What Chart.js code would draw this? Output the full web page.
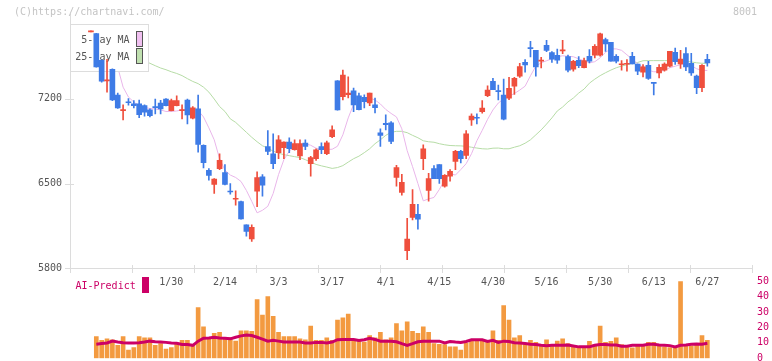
<!DOCTYPE html>
<html><head><meta charset="utf-8">
<script src="https://cdn.jsdelivr.net/npm/chart.js@4.4.1/dist/chart.umd.min.js"></script>
<style>
html,body{margin:0;padding:0;background:#fff;width:772px;height:361px;overflow:hidden;}
#wrap{position:relative;width:772px;height:361px;}
#c1{position:absolute;left:0;top:0;}
#c2{position:absolute;left:0;top:270px;}
</style></head><body>
<div id="wrap"><canvas id="c1" width="772" height="361"></canvas><canvas id="c2" width="772" height="100"></canvas></div>
<script>
const dates = ['1/8','1/9','1/10','1/14','1/15','1/16','1/17','1/20','1/21','1/22','1/23','1/24','1/27','1/28','1/29','1/30','1/31',
'2/3','2/4','2/5','2/6','2/7','2/10','2/12','2/13','2/14','2/17','2/18','2/19','2/20','2/21','2/25','2/26','2/27','2/28',
'3/3','3/4','3/5','3/6','3/7','3/10','3/11','3/12','3/13','3/14','3/17','3/18','3/19','3/21','3/24','3/25','3/26','3/27','3/28','3/31',
'4/1','4/2','4/3','4/4','4/7','4/8','4/9','4/10','4/11','4/14','4/15','4/16','4/17','4/18','4/21','4/22','4/23','4/24','4/25','4/28','4/30',
'5/1','5/2','5/7','5/8','5/9','5/12','5/13','5/14','5/15','5/16','5/19','5/20','5/21','5/22','5/23','5/26','5/27','5/28','5/29','5/30',
'6/2','6/3','6/4','6/5','6/6','6/9','6/10','6/11','6/12','6/13','6/16','6/17','6/18','6/19','6/20','6/23','6/24','6/25','6/26','6/27'];

const opens = [7752,7739,7518,7348,7444,7231,7102,7171,7159,7159,7143,7108,7132,7165,7198,7102,7143,7102,7190,7039,
7116,6815,6609,6492,6623,6591,6435,6370,6350,6158,6043,6437,6555,6806,6746,6755,6796,6842,6779,6728,
6834,6664,6705,6806,6746,6888,7348,7217,7233,7266,7225,7212,7165,7149,6919,6998,7001,6550,6426,5945,
6221,6246,6705,6443,6623,6656,6478,6560,6683,6765,6733,7026,7044,7094,7225,7343,7263,7231,7204,7304,
7387,7501,7619,7600,7511,7641,7581,7559,7596,7548,7444,7518,7456,7551,7561,7559,7688,7666,7551,7481,
7485,7551,7487,7419,7477,7332,7414,7436,7469,7584,7487,7573,7493,7387,7291,7526];
const highs = [7753,7740,7522,7526,7448,7247,7149,7202,7185,7190,7149,7116,7198,7187,7202,7198,7225,7149,7198,7136,
7231,6820,6623,6541,6746,6656,6500,6440,6355,6160,6158,6596,6574,6938,6911,6897,6845,6878,6861,6861,
6861,6724,6787,6837,6851,6976,7350,7436,7381,7288,7247,7233,7247,7206,6952,7067,7012,6651,6577,6213,
6451,6328,6820,6585,6648,6656,6574,6615,6774,6774,6938,7075,7075,7184,7307,7368,7313,7362,7376,7376,
7493,7524,7674,7600,7542,7682,7589,7611,7682,7561,7518,7549,7537,7606,7647,7742,7701,7666,7565,7515,
7524,7584,7487,7483,7510,7332,7483,7496,7592,7619,7600,7622,7575,7395,7483,7567];
const lows = [7752,7460,7337,7255,7184,7120,7026,7147,7124,7044,7056,7050,7075,7075,7140,7099,7140,7034,6993,7034,
6760,6629,6527,6418,6615,6488,6412,6322,6205,6065,6022,6309,6396,6738,6623,6705,6705,6755,6775,6697,
6779,6560,6691,6746,6738,6878,7105,7190,7206,7094,7108,7124,7143,7083,6806,6943,6829,6478,6404,5871,
6199,6123,6615,6355,6541,6500,6470,6519,6615,6670,6705,6979,6993,7081,7217,7276,7190,7026,7192,7236,
7376,7419,7545,7387,7455,7589,7501,7491,7573,7422,7428,7456,7455,7496,7537,7551,7592,7510,7496,7436,
7428,7487,7400,7381,7359,7231,7373,7428,7463,7483,7450,7432,7393,7243,7258,7469];
const closes = [7753,7463,7346,7354,7190,7124,7105,7167,7143,7069,7089,7061,7127,7116,7143,7184,7184,7105,7067,7126,
6823,6673,6568,6536,6691,6492,6430,6375,6207,6104,6139,6550,6486,6765,6664,6861,6842,6787,6829,6829,
6806,6714,6779,6779,6837,6943,7108,7395,7247,7149,7110,7176,7247,7126,6897,6987,6847,6632,6509,6041,
6328,6205,6787,6541,6541,6541,6568,6601,6765,6705,6911,7056,7039,7124,7272,7276,7259,7031,7286,7368,
7466,7479,7614,7463,7515,7600,7526,7518,7600,7436,7510,7473,7515,7510,7633,7737,7653,7510,7510,7485,
7489,7487,7428,7463,7368,7327,7460,7487,7592,7507,7528,7463,7414,7291,7477,7496];

const ma5 = [null,null,null,null,null,7460,7296,7214,7173,7140,7128,7120,7116,7108,7095,7095,7099,7108,7116,7116,
7103,7050,6960,6861,6705,6611,6570,6550,6517,6443,6353,6258,6279,6312,6418,6574,6697,6767,6808,6820,
6829,6816,6792,6783,6782,6783,6808,6902,7042,7153,7194,7210,7206,7190,7157,7112,7079,7050,6952,6771,
6640,6500,6357,6373,6385,6451,6529,6582,6570,6615,6664,6746,6853,6939,7030,7108,7165,7198,7222,7243,
7272,7304,7390,7469,7497,7514,7530,7547,7555,7551,7547,7530,7514,7497,7506,7538,7584,7612,7612,7600,
7563,7526,7489,7460,7436,7423,7423,7436,7456,7469,7481,7489,7473,7448,7434,7434];
const ma25 = [null,null,null,null,null,null,null,null,null,null,7514,7493,7473,7454,7440,7423,7409,7391,7366,7343,
7325,7296,7255,7198,7136,7095,7034,7005,6964,6923,6882,6845,6812,6792,6767,6751,6738,6730,6722,6714,
6697,6677,6658,6646,6636,6625,6632,6648,6677,6705,6726,6755,6787,6829,6861,6898,6923,6931,6931,6920,
6898,6878,6853,6845,6841,6829,6820,6814,6812,6811,6807,6800,6793,6787,6785,6792,6793,6787,6787,6800,
6812,6833,6861,6902,6943,6991,7042,7099,7132,7174,7206,7247,7280,7329,7362,7391,7415,7437,7456,7470,
7481,7492,7500,7514,7515,7515,7515,7515,7515,7515,7514,7510,7504,7497,7493,7493];

const aiBars = [null,14,11.6,12.6,12,8.4,14,5.3,7,14,13.2,
13.2,8.4,9.5,5.9,7,9.9,11.6,11.6,8.4,32.8,
20.3,12.6,16.1,16.8,13.2,13.2,11.1,17.8,17.8,17.4,
38,28,39.9,27.2,16.8,14,14,14,12.6,12,
20.9,11.6,11.6,13.2,11.6,24.7,26.1,28.6,12,11.6,
10.5,14.7,13.2,16.8,12,13.2,22.4,17.8,23.6,17.4,
16.1,20.3,16.8,9.5,9.1,8.9,7.4,7.4,5.3,9.9,
12,12,11.1,10.9,17.8,11.6,34.1,24.7,13.2,14.7,
8.9,11.6,10.3,8.9,12,8.9,11.1,12.6,9.5,7.8,
7.4,7.4,10.9,8.9,20.9,10.3,10.9,13.2,8.9,7.8,
6.8,8.9,8,10.3,10.3,8,7.4,7,7.4,49.7,
8.9,8,8.9,14.7,11.6];
const aiLine = [null,9.1,9.5,9.9,11.1,10.5,10.1,9.9,9.9,10.1,10.5,
11.1,10.7,10.5,10.3,9.9,9.7,8.9,8.9,8.4,11.1,
13,13.2,13.6,13.2,13,12.6,13.6,14.5,15.1,14.7,
13.6,12.4,11.1,11.6,11.1,10.5,10.5,10.5,10.5,9.9,
9.9,10.3,10.3,9.9,10.5,12,12.2,12.2,12.2,11.6,
12,13,12.2,11.1,11.1,11.1,10.7,9.5,8.4,9.5,
10.7,11.1,11.1,11.1,11.1,9.9,10.9,10.5,10.3,10.9,
12,12,12,10.9,11.6,10.3,11.1,10.9,10.1,9.9,
9.5,9.1,8.9,8.4,8.2,8.4,8.4,8.4,8.6,8,
7.4,7.4,7.4,8.4,8.9,8.9,8.6,8.6,7.8,7.8,
8.4,8.4,8.4,9.1,9.1,8.6,8.4,8.2,7.4,8.4,
8.6,9.1,9.3,9.1,9.7];

const priceTicks = [5800, 6500, 7200];
const aiTicks = [0, 10, 20, 30, 40, 50];
const dateLabels = ['1/30','2/14','3/3','3/17','4/1','4/15','4/30','5/16','5/30','6/13','6/27'];
const legendNames = ['5-Day MA', '25-Day MA'];
const copyright = '(C)https://chartnavi.com/';
const code = '8001';
const aiName = 'AI-Predict';

const MONO = '"DejaVu Sans Mono", "Liberation Mono", monospace';
const UP = '#ef4f3d', DOWN = '#3e7be6';
const MA5C = '#e9b6ea', MA25C = '#b6dca6';
const AXIS = '#dcdcdc';
const XMIN = -3.907, XMAX = 123.33;

const pts = arr => arr.map((v, k) => v == null ? null : {x: k, y: v}).filter(p => p);
const candleColor = ctx => closes[ctx.dataIndex] >= opens[ctx.dataIndex] ? UP : DOWN;

const mainPlugin = {
  id: 'mainPlugin',
  beforeDatasetDraw(chart, args) {
    if (args.index !== 2) return;
    const ctx = chart.ctx;
    ctx.save();
    ctx.fillStyle = '#fff';
    ctx.fillRect(70, 24, 78, 47);
    ctx.strokeStyle = '#dddddd';
    ctx.lineWidth = 1;
    ctx.strokeRect(70.5, 24.5, 78, 47);
    ctx.font = '10px ' + MONO;
    ctx.fillStyle = '#555';
    ctx.textAlign = 'right';
    ctx.textBaseline = 'middle';
    ctx.fillText(legendNames[0], 129.5, 40);
    ctx.fillText(legendNames[1], 129.5, 57);
    ctx.fillStyle = '#f0c0f0';
    ctx.fillRect(136.5, 31.5, 6, 15);
    ctx.fillStyle = '#c0e0b0';
    ctx.fillRect(136.5, 48.5, 6, 15);
    ctx.strokeStyle = '#555';
    ctx.strokeRect(136.5, 31.5, 6, 15);
    ctx.strokeRect(136.5, 48.5, 6, 15);
    ctx.restore();
  },
  afterDraw(chart) {
    const ctx = chart.ctx, xs = chart.scales.x, ys = chart.scales.y, a = chart.chartArea;
    ctx.save();
    ctx.fillStyle = AXIS;
    const L = Math.round(a.left), B = Math.round(a.bottom);
    ctx.fillRect(L, Math.round(a.top), 1, B - Math.round(a.top) + 1);
    ctx.fillRect(L - 5, B, Math.round(a.right) - L + 6, 1);
    priceTicks.forEach(v => { const y = Math.round(ys.getPixelForValue(v)); ctx.fillRect(L - 5, y, 9, 1); });
    for (let j = 0; j <= 11; j++) {
      const v = XMIN + j * (XMAX - XMIN) / 11;
      const x = Math.round(xs.getPixelForValue(v));
      ctx.fillRect(x, B - 3, 1, 8);
    }
    ctx.font = '10px ' + MONO;
    ctx.textBaseline = 'middle';
    ctx.textAlign = 'center';
    ctx.fillStyle = '#555';
    dateLabels.forEach(d => {
      const k = dates.indexOf(d);
      ctx.fillText(d, xs.getPixelForValue(k), 282.5);
    });
    ctx.fillStyle = '#c4c4c4';
    ctx.textAlign = 'left';
    ctx.fillText(copyright, 14, 12.5);
    ctx.textAlign = 'right';
    ctx.fillText(code, 757, 12.5);
    ctx.fillStyle = '#cc0066';
    ctx.textAlign = 'left';
    ctx.fillText(aiName, 75.5, 286);
    ctx.fillRect(142, 277, 7, 16);
    ctx.restore();
  }
};

new Chart(document.getElementById('c1'), {
  type: 'bar',
  data: {
    datasets: [
      {type: 'line', data: pts(ma25), borderColor: MA25C, borderWidth: 1, pointRadius: 0, tension: 0, order: 4},
      {type: 'line', data: pts(ma5), borderColor: MA5C, borderWidth: 1, pointRadius: 0, tension: 0, order: 3},
      {data: lows.map((v, k) => ({x: k, y: [v, highs[k]]})), backgroundColor: candleColor, barThickness: 1, grouped: false, minBarLength: 1, order: 2},
      {data: opens.map((v, k) => ({x: k, y: [v, closes[k]]})), backgroundColor: candleColor, barThickness: 5, grouped: false, minBarLength: 1, order: 1}
    ]
  },
  options: {
    responsive: false, animation: false, events: [],
    layout: {padding: {left: 0, right: 20, top: 12.3, bottom: 92.7}},
    plugins: {legend: {display: false}, tooltip: {enabled: false}},
    scales: {
      x: {type: 'linear', min: XMIN, max: XMAX, offset: false, display: false},
      y: {
        position: 'left', min: 5800, max: 7900,
        grid: {display: false, drawTicks: false}, border: {display: false},
        afterBuildTicks: s => { s.ticks = priceTicks.map(v => ({value: v})); },
        afterFit: s => { s.width = 70; },
        ticks: {padding: 8, color: '#555', font: {family: MONO, size: 10}, callback: v => String(v)}
      }
    }
  },
  plugins: [mainPlugin]
});

new Chart(document.getElementById('c2'), {
  type: 'bar',
  data: {
    datasets: [
      {type: 'line', data: pts(aiLine), borderColor: '#cc0066', borderWidth: 3, pointRadius: 0, tension: 0, order: 0},
      {data: pts(aiBars), backgroundColor: '#f39a40', barThickness: 4, grouped: false, order: 1}
    ]
  },
  options: {
    responsive: false, animation: false, events: [],
    layout: {padding: {left: 70, right: 0, top: 8.3, bottom: 11.7}},
    plugins: {legend: {display: false}, tooltip: {enabled: false}},
    scales: {
      x: {type: 'linear', min: XMIN, max: XMAX, offset: false, display: false},
      y: {
        position: 'right', min: 0, max: 50,
        grid: {display: false, drawTicks: false}, border: {display: false},
        afterBuildTicks: s => { s.ticks = aiTicks.map(v => ({value: v})); },
        afterFit: s => { s.width = 20; },
        ticks: {padding: 5, color: '#cc0066', font: {family: MONO, size: 10}, callback: v => String(v)}
      }
    }
  }
});
</script>
</body></html>
